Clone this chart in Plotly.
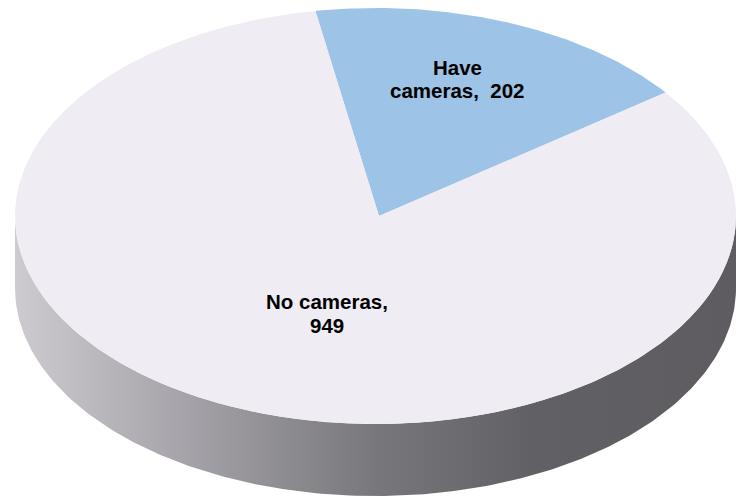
import numpy as np
import plotly.graph_objects as go

# ---- data ----
labels = ["Have cameras", "No cameras"]
values = [202, 949]
colors = ["#9dc3e6", "#efecf4"]

# ---- geometry (pixel space) ----
W, H = 736, 499
cx, cy, rx, ry, depth = 375.5, 216, 360.5, 208, 72
apex_x, apex_y = 379, 216
start_angle = -9.6  # degrees, clockwise from 12 o'clock


def pt(t_deg, dy=0.0):
    t = np.radians(t_deg)
    return cx + rx * np.sin(t), cy - ry * np.cos(t) + dy


fig = go.Figure()

# side wall (front half of the cylinder)
ts = np.linspace(90, 270, 200)
xt, yt = pt(ts)
xb, yb = pt(ts[::-1], depth)
fig.add_trace(go.Scatter(
    x=np.concatenate([xt, xb, xt[:1]]), y=np.concatenate([yt, yb, yt[:1]]),
    mode="lines", fill="toself", line=dict(width=0),
    fillgradient=dict(type="horizontal", colorscale=[
        [0.0, "#cdcad0"], [0.25, "#a3a1a7"], [0.5, "#78777b"],
        [0.72, "#616064"], [1.0, "#5e5c61"]]),
    hoverinfo="skip", showlegend=False))

# top-face slices computed from values
total = sum(values)
a0 = start_angle
for lab, v, c in zip(labels, values, colors):
    span = 360.0 * v / total
    tt = np.linspace(a0, a0 + span, max(3, int(span * 2)))
    ex, ey = pt(tt)
    fig.add_trace(go.Scatter(
        x=np.concatenate([[apex_x], ex, [apex_x]]),
        y=np.concatenate([[apex_y], ey, [apex_y]]),
        mode="lines", fill="toself", fillcolor=c, line=dict(width=0),
        name=lab, hoverinfo="name", showlegend=False))
    a0 += span

# labels
font = dict(family="Liberation Sans, Arial, sans-serif", size=20.5, color="#000000")
label_lines = [
    ("<b>Have</b>", 457, 67),
    ("<b>cameras,\u00a0\u00a0%d</b>" % values[0], 457, 90),
    ("<b>No cameras,</b>", 327, 301),
    ("<b>%d</b>" % values[1], 327, 325),
]
for txt, x, y in label_lines:
    fig.add_annotation(x=x, y=y, text=txt, showarrow=False, font=font,
                       xanchor="center", yanchor="middle")

fig.update_xaxes(range=[0, W], visible=False, fixedrange=True)
fig.update_yaxes(range=[H, 0], visible=False, fixedrange=True)
fig.update_layout(width=W, height=H, margin=dict(l=0, r=0, t=0, b=0),
                  paper_bgcolor="white", plot_bgcolor="white")
fig.write_html("out.html", config={"displayModeBar": False},
               post_script="document.documentElement.style.overflow='hidden';"
                           "document.body.style.overflow='hidden';"
                           "document.body.style.margin='0';")
